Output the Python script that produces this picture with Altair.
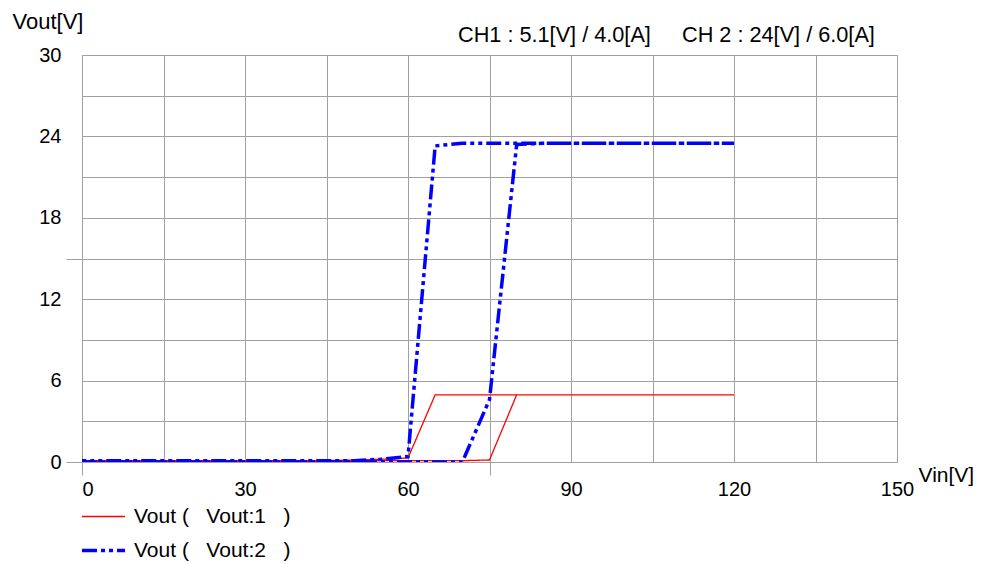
import altair as alt
import pandas as pd

# ---- data (sweep up 0->120 V, then back down 120->0 V) ----
vin_up = [0, 5, 10, 15, 20, 25, 30, 35, 40, 45, 50, 55, 60, 65, 70, 75, 80, 85, 90, 95, 100, 105, 110, 115, 120]
vin_down = [120, 115, 110, 105, 100, 95, 90, 85, 80, 75, 70, 65, 60, 55, 50, 45, 40, 35, 30, 25, 20, 15, 10, 5, 0]

vout1_up = [0.05, 0.05, 0.05, 0.05, 0.05, 0.05, 0.05, 0.05, 0.05, 0.05, 0.05, 0.1, 0.1, 0.1, 0.1, 0.15,
            4.95, 4.95, 4.95, 4.95, 4.95, 4.95, 4.95, 4.95, 4.95]
vout1_down = [4.95, 4.95, 4.95, 4.95, 4.95, 4.95, 4.95, 4.95, 4.95, 4.95, 4.95, 4.95,
              0.3, 0.2, 0.15, 0.1, 0.1, 0.1, 0.1, 0.1, 0.1, 0.1, 0.1, 0.1, 0.1]

vout2_up = [0.0, 0.0, 0.0, 0.0, 0.0, 0.0, 0.0, 0.0, 0.0, 0.0, 0.0, 0.0, 0.0, 0.0, 0.0, 4.6,
            23.4, 23.5, 23.5, 23.5, 23.5, 23.5, 23.5, 23.5, 23.5]
vout2_down = [23.5, 23.5, 23.5, 23.5, 23.5, 23.5, 23.5, 23.5, 23.5, 23.5, 23.5, 23.3,
              0.4, 0.2, 0.1, 0.1, 0.1, 0.1, 0.1, 0.1, 0.1, 0.1, 0.1, 0.1, 0.1]

series_names = ["Vout\u00a0(\u00a0\u00a0\u00a0Vout:1\u00a0\u00a0\u00a0)", "Vout\u00a0(\u00a0\u00a0\u00a0Vout:2\u00a0\u00a0\u00a0)"]
series_colors = ["#ff0000", "#0000ff"]
series_dash = [[1, 0], [15, 4, 4, 4, 4, 4]]
series_width = [1.3, 3.5]

x_grid = [0, 15, 30, 45, 60, 75, 90, 105, 120, 135, 150]
y_grid = [0, 3, 6, 9, 12, 15, 18, 21, 24, 27, 30]

header_ch1 = "CH1 : 5.1[V] / 4.0[A]"
header_ch2 = "CH 2 : 24[V] / 6.0[A]"

rows = []
for name, up, down in [(series_names[0], vout1_up, vout1_down), (series_names[1], vout2_up, vout2_down)]:
    xs = vin_up + vin_down
    ys = up + down
    for i, (xv, yv) in enumerate(zip(xs, ys)):
        rows.append({"series": name, "vin": xv, "vout": yv, "i": i})
df = pd.DataFrame(rows)

FONT = "Liberation Sans"
GRID = "#a0a0a0"

legend = alt.Legend(
    title=None, orient="none", legendX=-2, legendY=439, direction="vertical",
    symbolType="stroke", symbolSize=1849, labelFontSize=21, labelFont=FONT,
    labelColor="#000000", labelOffset=7, rowPadding=-14, padding=0,
)

lines = alt.Chart(df).mark_line(clip=True).encode(
    x=alt.X("vin:Q", scale=alt.Scale(domain=[0, 150], nice=False),
            axis=alt.Axis(
                values=x_grid, title="Vin[V]",
                labelExpr="datum.value % 30 == 0 ? datum.label : ''",
                labelFontSize=20, labelFont=FONT, labelColor="#000000",
                labelPadding=4, labelAlign={"condition": {"test": "datum.value == 0", "value": "left"}, "value": "center"},
                tickSize=13, tickColor=GRID,
                tickOpacity={"condition": {"test": "datum.value == 0 || datum.value == 75", "value": 1}, "value": 0},
                grid=True, gridColor=GRID, domainColor=GRID,
                titleFont=FONT, titleFontSize=21, titleFontWeight="normal", titleColor="#000000",
                titleAngle=0, titleAlign="left", titleBaseline="alphabetic",
                titleX=836, titleY=19,
            )),
    y=alt.Y("vout:Q", scale=alt.Scale(domain=[0, 30], nice=False),
            axis=alt.Axis(
                values=y_grid, title="Vout[V]",
                labelExpr="datum.value % 6 == 0 ? datum.label : ''",
                labelFontSize=20, labelFont=FONT, labelColor="#000000",
                labelPadding=5,
                tickSize=16, tickColor=GRID,
                tickOpacity={"condition": {"test": "datum.value == 0 || datum.value == 15", "value": 1}, "value": 0},
                grid=True, gridColor=GRID, domainColor=GRID,
                titleFont=FONT, titleFontSize=22, titleFontWeight="normal", titleColor="#000000",
                titleAngle=0, titleAlign="left", titleBaseline="alphabetic",
                titleX=-70, titleY=-27,
            )),
    color=alt.Color("series:N", scale=alt.Scale(domain=series_names, range=series_colors), legend=legend),
    strokeDash=alt.StrokeDash("series:N", scale=alt.Scale(domain=series_names, range=series_dash), legend=legend),
    strokeWidth=alt.StrokeWidth("series:N", scale=alt.Scale(domain=series_names, range=series_width), legend=legend),
    order="i:Q",
)

hdr = pd.DataFrame({"t1": [header_ch1], "t2": [header_ch2]})
text1 = alt.Chart(hdr).mark_text(align="left", baseline="alphabetic", font=FONT, fontSize=21.7, color="#000000").encode(
    text="t1:N", x=alt.value(376), y=alt.value(-13))
text2 = alt.Chart(hdr).mark_text(align="left", baseline="alphabetic", font=FONT, fontSize=21.7, color="#000000").encode(
    text="t2:N", x=alt.value(600), y=alt.value(-13))

chart = alt.layer(lines, text1, text2).properties(
    width=815, height=407,
    autosize=alt.AutoSizeParams(type="none"),
    padding={"left": 82, "top": 55, "right": 84, "bottom": 102},
    background="#ffffff",
).configure_view(stroke=GRID)

chart.save("out.html", embed_options={"renderer": "svg", "actions": False})
